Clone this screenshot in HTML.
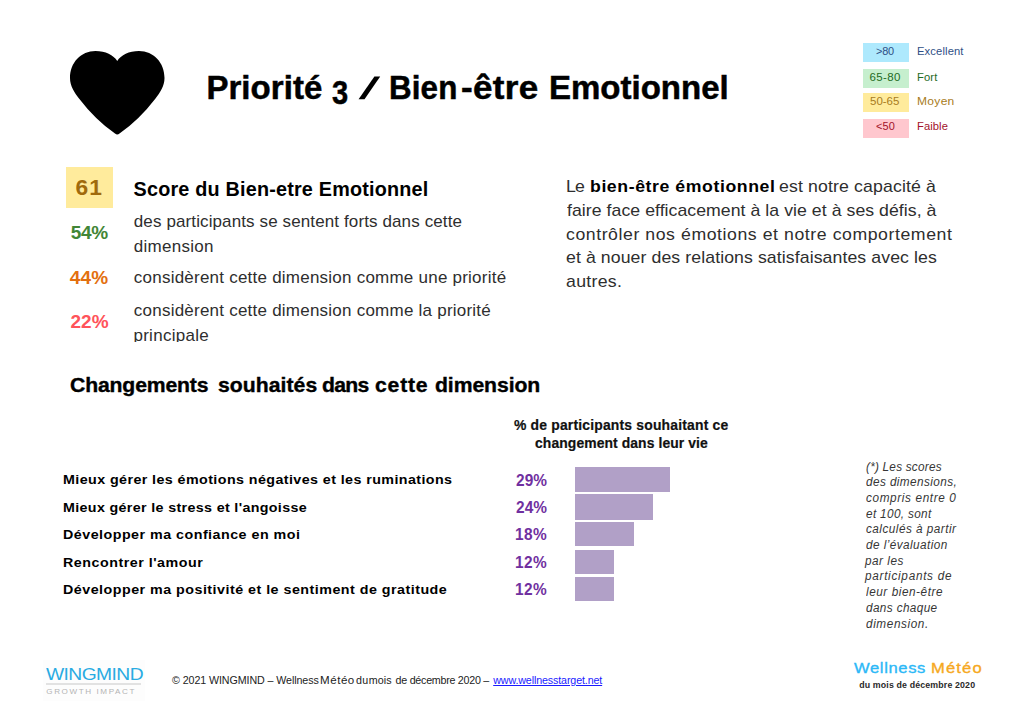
<!DOCTYPE html>
<html lang="fr">
<head>
<meta charset="utf-8">
<title>Priorité 3 / Bien-être Emotionnel</title>
<style>
  html, body { margin: 0; padding: 0; background: #ffffff; }
  body { width: 1024px; height: 709px; position: relative; overflow: hidden;
         font-family: "Liberation Sans", sans-serif; color: #000; }
  .t { position: absolute; white-space: nowrap; line-height: 1; transform-origin: 0 0; }
  .box { position: absolute; }
  .lg { position: absolute; left: 862.6px; width: 46.3px; }
  .bar { position: absolute; left: 575px; background: #b1a0c7; }
</style>
</head>
<body>

<!-- heart icon -->
<svg class="box" style="left:70px; top:51px;" width="95" height="85" viewBox="0 0 95 85">
  <path d="M47.25 10 C43.5 4 35.5 0 25.5 0 C11 0 0 11.5 0 27 C0 35 4.5 41.5 9 47.5 Q25.2 68.7 45 82.6 Q47.25 84.6 49.5 82.6 Q69.3 68.7 85.5 47.5 C90 41.5 94.5 35 94.5 27 C94.5 11.5 83.5 0 69 0 C59 0 51 4 47.25 10 Z" fill="#000"/>
</svg>

<!-- title slash -->
<svg class="box" style="left:355px; top:70px;" width="32" height="36" viewBox="355 70 32 36">
  <polygon points="358.6,99.2 364.5,99.2 380.2,76.6 374.4,76.6" fill="#000"/>
</svg>

<!-- legend swatches -->
<div class="lg" style="top:43.3px; height:18.5px; background:#aee9fd;"></div>
<div class="lg" style="top:69px;   height:18.6px; background:#c6efce;"></div>
<div class="lg" style="top:93.3px; height:18.7px; background:#ffeb9c;"></div>
<div class="lg" style="top:119.1px;height:18.7px; background:#ffc7ce;"></div>

<!-- score swatch -->
<div class="box" style="left:65.9px; top:167.2px; width:47.2px; height:41.2px; background:#ffeb9c;"></div>

<!-- bars -->
<div class="bar" style="top:466.8px; width:94.6px; height:25.4px;"></div>
<div class="bar" style="top:494.3px; width:77.9px; height:25.6px;"></div>
<div class="bar" style="top:521.8px; width:59px;   height:24.5px;"></div>
<div class="bar" style="top:549.5px; width:39.4px; height:24.3px;"></div>
<div class="bar" style="top:577px;   width:39.4px; height:24.3px;"></div>

<!-- logo rule -->
<div class="box" style="left:43.3px; top:660px; width:101.7px; height:40.6px; background:#fdfdfd;"></div>
<div class="box" style="left:46px; top:683.1px; width:95.3px; height:1.7px; background:#e2e2e2;"></div>

<div class="t" id="ti1" style="left:206.40px;top:71.20px;font-size:33px;font-weight:bold;letter-spacing:0.057px;-webkit-text-stroke:0.5px #000;">Priorité</div>
<div class="t" id="ti2" style="left:332.40px;top:76.20px;font-size:33px;font-weight:bold;transform:scaleX(0.88);-webkit-text-stroke:0.5px #000;">3</div>
<div class="t" id="ti4a" style="left:389.40px;top:71.20px;font-size:33px;font-weight:bold;letter-spacing:0.140px;transform:scaleX(0.95);-webkit-text-stroke:0.5px #000;">Bien</div>
<div class="t" id="ti4b" style="left:460.80px;top:71.20px;font-size:33px;font-weight:bold;letter-spacing:0.330px;transform:scaleX(1.06);-webkit-text-stroke:0.5px #000;">-être</div>
<div class="t" id="ti5" style="left:549.00px;top:71.20px;font-size:33px;font-weight:bold;-webkit-text-stroke:0.5px #000;">Emotionnel</div>
<div class="t" id="l1" style="left:875.90px;top:46.20px;font-size:11.5px;color:#2f4f86;letter-spacing:-0.211px;transform:scaleX(0.95);">&gt;80</div>
<div class="t" id="l2" style="left:869.60px;top:72.20px;font-size:11.5px;color:#1f6b1f;letter-spacing:0.350px;">65-80</div>
<div class="t" id="l3" style="left:870.00px;top:96.20px;font-size:11.5px;color:#a87c1c;">50-65</div>
<div class="t" id="l4" style="left:876.10px;top:121.20px;font-size:11.5px;color:#a3122a;letter-spacing:0.105px;transform:scaleX(0.95);">&lt;50</div>
<div class="t" id="l5" style="left:916.90px;top:46.20px;font-size:11.8px;color:#2f4f86;letter-spacing:0.132px;transform:scaleX(0.95);">Excellent</div>
<div class="t" id="l6" style="left:916.90px;top:72.20px;font-size:11.8px;color:#1f6b1f;letter-spacing:0.140px;transform:scaleX(0.95);">Fort</div>
<div class="t" id="l7" style="left:917.00px;top:96.20px;font-size:11.8px;color:#a87c1c;letter-spacing:0.294px;transform:scaleX(1.02);">Moyen</div>
<div class="t" id="l8" style="left:916.90px;top:121.20px;font-size:11.8px;color:#a3122a;letter-spacing:0.084px;transform:scaleX(0.95);">Faible</div>
<div class="t" id="s61" style="left:75.60px;top:176.20px;font-size:22.8px;font-weight:bold;color:#a06a0c;letter-spacing:1.000px;">61</div>
<div class="t" id="sh" style="left:133.60px;top:180.20px;font-size:19.8px;font-weight:bold;letter-spacing:0.200px;">Score du Bien-etre Emotionnel</div>
<div class="t" id="p54" style="left:70.70px;top:223.20px;font-size:19px;font-weight:bold;color:#428636;letter-spacing:-0.300px;">54%</div>
<div class="t" id="p44" style="left:69.80px;top:268.20px;font-size:19px;font-weight:bold;color:#e3700f;letter-spacing:0.100px;">44%</div>
<div class="t" id="p22" style="left:70.50px;top:312.20px;font-size:19px;font-weight:bold;color:#ff535a;">22%</div>
<div class="t" id="d1" style="left:133.80px;top:213.20px;font-size:17.0px;color:#2e2e2e;letter-spacing:0.116px;">des participants se sentent forts dans cette</div>
<div class="t" id="d2" style="left:133.80px;top:238.20px;font-size:17.0px;color:#2e2e2e;letter-spacing:0.275px;">dimension</div>
<div class="t" id="d3" style="left:133.80px;top:269.20px;font-size:17.0px;color:#2e2e2e;letter-spacing:0.231px;">considèrent cette dimension comme une priorité</div>
<div class="t" id="d4" style="left:133.80px;top:302.20px;font-size:17.0px;color:#2e2e2e;letter-spacing:0.232px;">considèrent cette dimension comme la priorité</div>
<div class="t" id="d5" style="left:133.40px;top:327.20px;font-size:17.0px;color:#2e2e2e;letter-spacing:0.289px;">principale</div>
<div class="t" id="r1a" style="left:566.20px;top:178.20px;font-size:17.0px;color:#2e2e2e;letter-spacing:-0.769px;transform:scaleX(1.04);">Le</div>
<div class="t" id="r1b" style="left:590.10px;top:178.20px;font-size:17.0px;font-weight:bold;letter-spacing:0.557px;transform:scaleX(1.04);">bien-être émotionnel</div>
<div class="t" id="r1c" style="left:779.40px;top:178.20px;font-size:17.0px;color:#2e2e2e;letter-spacing:0.132px;transform:scaleX(1.04);">est notre capacité à</div>
<div class="t" id="r2" style="left:567.10px;top:202.20px;font-size:17.0px;color:#2e2e2e;letter-spacing:0.043px;transform:scaleX(1.04);">faire face efficacement à la vie et à ses défis, à</div>
<div class="t" id="r3" style="left:566.20px;top:226.20px;font-size:17.0px;color:#2e2e2e;letter-spacing:0.541px;transform:scaleX(1.04);">contrôler nos émotions et notre comportement</div>
<div class="t" id="r4" style="left:566.20px;top:249.20px;font-size:17.0px;color:#2e2e2e;letter-spacing:0.086px;transform:scaleX(1.04);">et à nouer des relations satisfaisantes avec les</div>
<div class="t" id="r5" style="left:566.20px;top:273.20px;font-size:17.0px;color:#2e2e2e;letter-spacing:0.288px;transform:scaleX(1.04);">autres.</div>
<div class="t" id="c1" style="left:70.30px;top:376.20px;font-size:19.8px;font-weight:bold;letter-spacing:-0.131px;transform:scaleX(1.07);-webkit-text-stroke:0.35px #000;">Changements</div>
<div class="t" id="c2" style="left:218.20px;top:376.20px;font-size:19.8px;font-weight:bold;letter-spacing:0.047px;transform:scaleX(1.07);-webkit-text-stroke:0.35px #000;">souhaités</div>
<div class="t" id="c3" style="left:321.50px;top:376.20px;font-size:19.8px;font-weight:bold;letter-spacing:-0.685px;transform:scaleX(1.07);-webkit-text-stroke:0.35px #000;">dans</div>
<div class="t" id="c4" style="left:375.20px;top:376.20px;font-size:19.8px;font-weight:bold;letter-spacing:0.748px;transform:scaleX(1.07);-webkit-text-stroke:0.35px #000;">cette</div>
<div class="t" id="c5" style="left:434.80px;top:376.20px;font-size:19.8px;font-weight:bold;letter-spacing:-0.070px;transform:scaleX(1.07);-webkit-text-stroke:0.35px #000;">dimension</div>
<div class="t" id="h1" style="left:514.40px;top:418.20px;font-size:14.2px;font-weight:bold;color:#111;letter-spacing:0.190px;transform:scaleX(0.98);-webkit-text-stroke:0.2px #111;">% de participants souhaitant ce</div>
<div class="t" id="h2" style="left:535.30px;top:436.20px;font-size:14.2px;font-weight:bold;color:#111;letter-spacing:0.089px;transform:scaleX(0.98);-webkit-text-stroke:0.2px #111;">changement dans leur vie</div>
<div class="t" id="w1" style="left:63.00px;top:473.20px;font-size:13.6px;font-weight:bold;letter-spacing:0.399px;transform:scaleX(1.05);">Mieux gérer les émotions négatives et les ruminations</div>
<div class="t" id="w2" style="left:63.00px;top:501.20px;font-size:13.6px;font-weight:bold;letter-spacing:0.331px;transform:scaleX(1.05);">Mieux gérer le stress et l'angoisse</div>
<div class="t" id="w3" style="left:63.00px;top:528.20px;font-size:13.6px;font-weight:bold;letter-spacing:0.460px;transform:scaleX(1.05);">Développer ma confiance en moi</div>
<div class="t" id="w4" style="left:63.00px;top:556.20px;font-size:13.6px;font-weight:bold;letter-spacing:0.482px;transform:scaleX(1.05);">Rencontrer l'amour</div>
<div class="t" id="w5" style="left:63.00px;top:583.20px;font-size:13.6px;font-weight:bold;letter-spacing:0.462px;transform:scaleX(1.05);">Développer ma positivité et le sentiment de gratitude</div>
<div class="t" id="q1" style="left:515.60px;top:473.20px;font-size:16.6px;font-weight:bold;color:#7030a0;letter-spacing:0.108px;transform:scaleX(0.93);">29%</div>
<div class="t" id="q2" style="left:515.60px;top:500.20px;font-size:16.6px;font-weight:bold;color:#7030a0;letter-spacing:0.108px;transform:scaleX(0.93);">24%</div>
<div class="t" id="q3" style="left:515.00px;top:527.20px;font-size:16.6px;font-weight:bold;color:#7030a0;letter-spacing:0.430px;transform:scaleX(0.93);">18%</div>
<div class="t" id="q4" style="left:515.00px;top:555.20px;font-size:16.6px;font-weight:bold;color:#7030a0;letter-spacing:0.430px;transform:scaleX(0.93);">12%</div>
<div class="t" id="q5" style="left:515.00px;top:582.20px;font-size:16.6px;font-weight:bold;color:#7030a0;letter-spacing:0.430px;transform:scaleX(0.93);">12%</div>
<div class="t" id="n0" style="left:866.00px;top:461.20px;font-size:12.0px;font-style:italic;color:#363636;letter-spacing:0.235px;transform:scaleX(0.98);">(*) Les scores</div>
<div class="t" id="n1" style="left:866.00px;top:476.20px;font-size:12.0px;font-style:italic;color:#363636;letter-spacing:0.423px;transform:scaleX(0.98);">des dimensions,</div>
<div class="t" id="n2" style="left:866.00px;top:492.20px;font-size:12.0px;font-style:italic;color:#363636;letter-spacing:0.641px;transform:scaleX(0.98);">compris entre 0</div>
<div class="t" id="n3" style="left:866.00px;top:508.20px;font-size:12.0px;font-style:italic;color:#363636;letter-spacing:0.353px;transform:scaleX(0.98);">et 100, sont</div>
<div class="t" id="n4" style="left:866.00px;top:523.20px;font-size:12.0px;font-style:italic;color:#363636;letter-spacing:0.485px;transform:scaleX(0.98);">calculés à partir</div>
<div class="t" id="n5" style="left:866.00px;top:539.20px;font-size:12.0px;font-style:italic;color:#363636;letter-spacing:0.437px;transform:scaleX(0.98);">de l’évaluation</div>
<div class="t" id="n6" style="left:864.90px;top:555.20px;font-size:12.0px;font-style:italic;color:#363636;letter-spacing:0.510px;transform:scaleX(0.98);">par les</div>
<div class="t" id="n7" style="left:864.90px;top:570.20px;font-size:12.0px;font-style:italic;color:#363636;letter-spacing:0.729px;transform:scaleX(0.98);">participants de</div>
<div class="t" id="n8" style="left:866.00px;top:586.20px;font-size:12.0px;font-style:italic;color:#363636;letter-spacing:0.565px;transform:scaleX(0.98);">leur bien-être</div>
<div class="t" id="n9" style="left:866.00px;top:602.20px;font-size:12.0px;font-style:italic;color:#363636;letter-spacing:0.388px;transform:scaleX(0.98);">dans chaque</div>
<div class="t" id="n10" style="left:866.00px;top:618.20px;font-size:12.0px;font-style:italic;color:#363636;letter-spacing:0.612px;transform:scaleX(0.98);">dimension.</div>
<div class="t" id="wm" style="left:45.90px;top:666.20px;font-size:17.2px;color:#29abe2;letter-spacing:-0.510px;transform:scaleX(1.12);">WINGMIND</div>
<div class="t" id="gi" style="left:46.30px;top:688.20px;font-size:8.1px;color:#b4b4b4;letter-spacing:1.583px;">GROWTH IMPACT</div>
<div class="t" id="f1a" style="left:172.00px;top:675.20px;font-size:10.7px;color:#222;letter-spacing:-0.088px;">© 2021 WINGMIND – Wellness</div>
<div class="t" id="f1b" style="left:320.00px;top:675.20px;font-size:10.7px;color:#222;letter-spacing:0.509px;transform:scaleX(1.08);">Météo</div>
<div class="t" id="f1c" style="left:356.00px;top:675.20px;font-size:10.7px;color:#222;letter-spacing:0.400px;">du</div>
<div class="t" id="f1d" style="left:368.80px;top:675.20px;font-size:10.7px;color:#222;letter-spacing:0.067px;">mois</div>
<div class="t" id="f1e" style="left:395.60px;top:675.20px;font-size:10.7px;color:#222;letter-spacing:-0.259px;">de décembre 2020 –</div>
<div class="t" id="f2" style="left:493.20px;top:675.20px;font-size:10.7px;color:#1a1aff;letter-spacing:-0.124px;"><span style="text-decoration:underline;">www.wellnesstarget.net</span></div>
<div class="t" id="wl1" style="left:854.10px;top:660.20px;font-size:15.5px;color:#2bb8f7;letter-spacing:0.587px;transform:scaleX(1.07);-webkit-text-stroke:0.35px #2bb8f7;">Wellness</div>
<div class="t" id="wl2" style="left:931.20px;top:660.20px;font-size:15.5px;color:#f6a821;letter-spacing:1.075px;transform:scaleX(1.07);-webkit-text-stroke:0.35px #f6a821;">Météo</div>
<div class="t" id="wl3" style="left:859.20px;top:681.20px;font-size:8.8px;font-weight:bold;color:#2a2a2a;letter-spacing:0.148px;">du mois de décembre 2020</div>

<!-- clip for the cut-off last line ("principale") -->
<div class="box" style="left:125px; top:342px; width:120px; height:10px; background:#fff;"></div>

</body>
</html>
